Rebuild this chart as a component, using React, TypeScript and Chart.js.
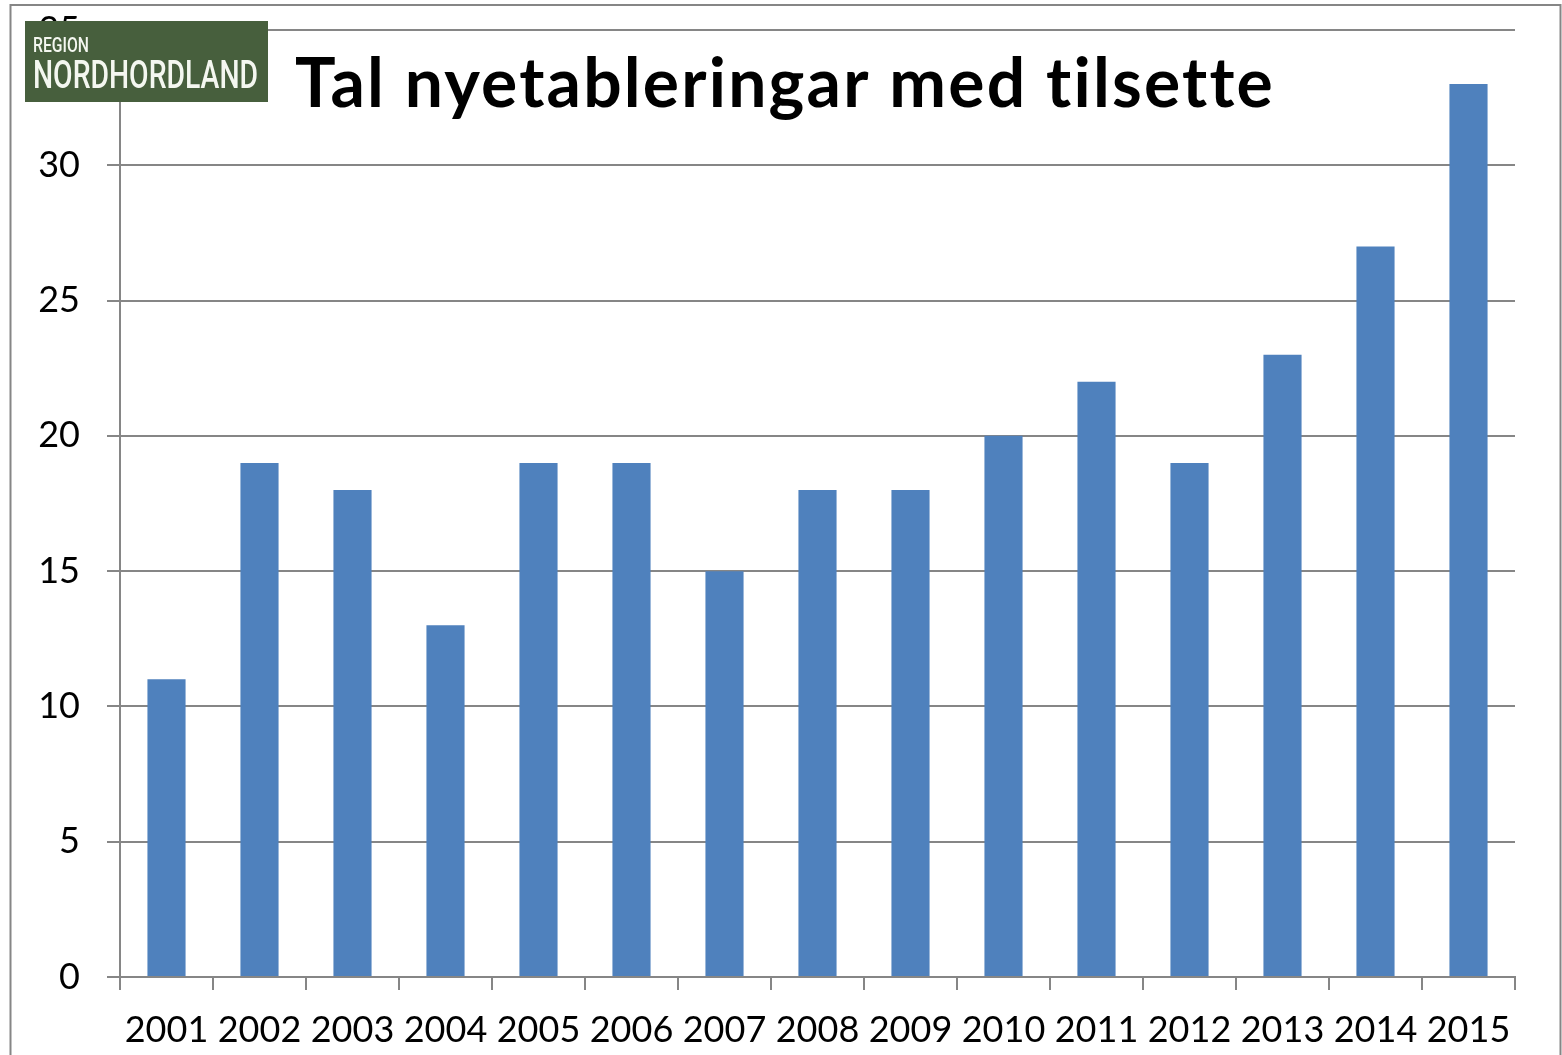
import React, { useEffect, useRef } from "react";
import { Chart, registerables } from "chart.js";

Chart.register(...registerables);

const years = ["2001","2002","2003","2004","2005","2006","2007","2008","2009","2010","2011","2012","2013","2014","2015"];
const values = [11, 19, 18, 13, 19, 19, 15, 18, 18, 20, 22, 19, 23, 27, 33];
const yMin = 0;
const yMax = 35;
const yStep = 5;
const titleText = "Tal nyetableringar med tilsette";
const logoSmall = "REGION";
const logoBig = "NORDHORDLAND";

const W = 1562;
const H = 1055;
const GRID = "#868686";

const overlayPlugin = {
  id: "overlay",
  afterDraw(chart: any) {
    const ctx = chart.ctx;
    ctx.save();
    // outer border
    ctx.strokeStyle = GRID;
    ctx.lineWidth = 2;
    ctx.beginPath();
    ctx.moveTo(10.5, H + 5);
    ctx.lineTo(10.5, 5);
    ctx.lineTo(1560.5, 5);
    ctx.lineTo(1560.5, H + 5);
    ctx.stroke();
    // logo
    ctx.fillStyle = "#475f3d";
    ctx.fillRect(25, 21, 243, 81);
    ctx.fillStyle = "#f4f7f0";
    ctx.textBaseline = "alphabetic";
    ctx.textAlign = "left";
    ctx.font = "500 20px Roboto";
    ctx.fillText(logoSmall, 33, 52, 56);
    ctx.font = "500 38px Roboto";
    ctx.fillText(logoBig, 33, 88, 225);
    // title
    ctx.fillStyle = "#000000";
    ctx.font = "bold 68px Lato";
    try { (ctx as any).letterSpacing = "2.2px"; } catch (e) {}
    ctx.fillText(titleText, 295, 107, 980);
    try { (ctx as any).letterSpacing = "0px"; } catch (e) {}
    ctx.restore();
  },
};

export default function App() {
  const ref = useRef<HTMLCanvasElement | null>(null);
  useEffect(() => {
    if (!ref.current) return;
    const chart = new Chart(ref.current, {
      type: "bar",
      data: {
        labels: years,
        datasets: [
          {
            data: values,
            backgroundColor: "#4f81bd",
            borderWidth: 0,
            barPercentage: 0.41,
            categoryPercentage: 1,
          },
        ],
      },
      options: {
        responsive: false,
        animation: false,
        layout: { padding: { left: 0, right: 47, top: 30, bottom: 0 } },
        plugins: { legend: { display: false }, tooltip: { enabled: false }, title: { display: false } },
        scales: {
          x: {
            grid: { drawOnChartArea: false, drawTicks: true, tickLength: 13, color: GRID, lineWidth: 2, offset: true },
            border: { color: GRID, width: 2 },
            ticks: { color: "#000", font: { family: "Lato", size: 36 }, padding: 19, maxRotation: 0, autoSkip: false },
            afterFit(scale: any) { scale.height = 78; scale.paddingLeft = 0; scale.paddingRight = 0; },
          },
          y: {
            min: yMin,
            max: yMax,
            grid: { drawTicks: true, tickLength: 13, color: GRID, lineWidth: 2 },
            border: { color: GRID, width: 2 },
            ticks: { stepSize: yStep, color: "#000", font: { family: "Lato", size: 36 }, padding: 27 },
            afterFit(scale: any) { scale.width = 120; scale.paddingTop = 0; scale.paddingBottom = 0; },
          },
        },
      },
      plugins: [overlayPlugin],
    });
    return () => chart.destroy();
  }, []);
  return (
    <div style={{ position: "fixed", left: 0, top: 0, width: W, height: H, background: "#fff", overflow: "hidden" }}>
      <canvas ref={ref} width={W} height={H} style={{ display: "block", width: W, height: H }} />
    </div>
  );
}
